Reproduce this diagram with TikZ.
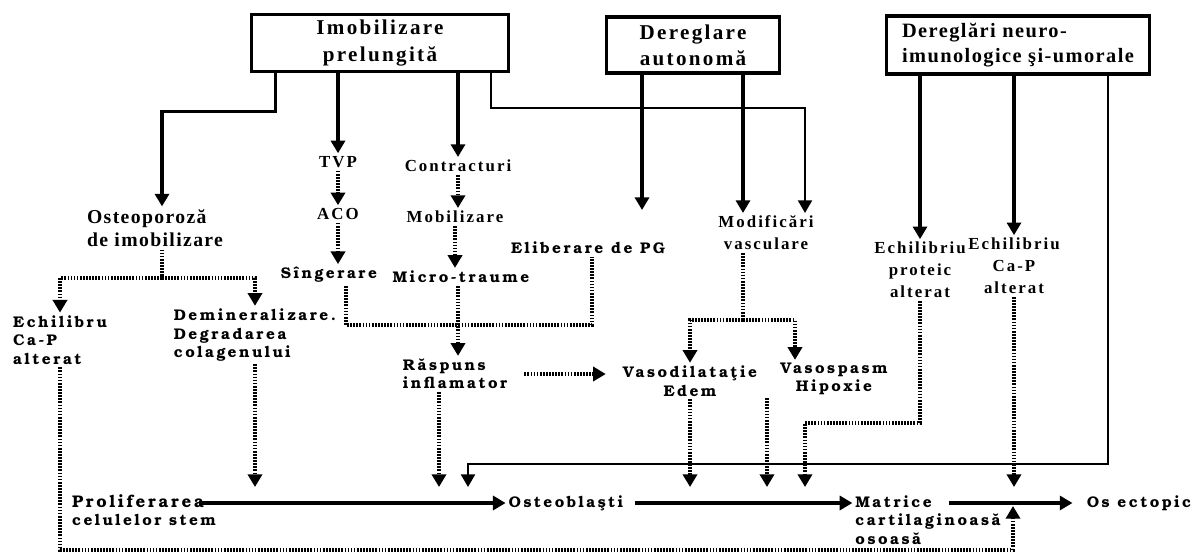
\documentclass[tikz,border=0pt]{standalone}
\usepackage{fontspec}
\setmainfont{Liberation Serif}
\newfontfamily\boxfont{Liberation Serif Bold}[LetterSpace=11]
\newfontfamily\boxfontnarrow{Liberation Serif Bold}[LetterSpace=7]
\newfontfamily\lightfont{Liberation Serif Bold}[LetterSpace=12]
\newfontfamily\bigfont{Liberation Serif Bold}[LetterSpace=7]
\newfontfamily\heavyfont{texgyrebonum-bold.otf}[LetterSpace=16]
\usetikzlibrary{arrows.meta, calc}

\begin{document}
\begin{tikzpicture}[
    x=0.025cm, y=-0.025cm,
    causebox/.style={rectangle, draw, line width=2.5pt, align=center, inner sep=0pt, font=\boxfont\fontsize{15}{18.5}\selectfont},
    light/.style={align=center, inner sep=2pt, font=\lightfont\fontsize{12}{15.5}\selectfont},
    heavy/.style={align=center, inner sep=2pt, font=\heavyfont\fontsize{11}{13}\selectfont},
    arrow/.style={-{Triangle[length=9pt, width=10pt]}, line width=2.2pt},
    thinarrow/.style={arrow, line width=1.5pt},
    dotarrow/.style={arrow, line width=2.4pt, dash pattern=on 1.2pt off 1pt},
    dotline/.style={line width=2.4pt, dash pattern=on 1.2pt off 1pt}
]

\useasboundingbox (0,0) rectangle (1197,554);

% ============ TOP: causes ============
\node[causebox, minimum width=6.425cm, minimum height=1.425cm] (imob) at (380,43) {Imobilizare\\prelungită};
\node[causebox, minimum width=4.325cm, minimum height=1.4cm] (autonom) at (693,45) {Dereglare\\autonomă};
\node[causebox, minimum width=6.575cm, minimum height=1.45cm, align=left,
      font=\boxfontnarrow\fontsize{14.5}{17.5}\selectfont] (neuro) at (1018,45) {Dereglări neuro-\\imunologice şi-umorale};

% ============ LEFT: osteoporosis branch ============
\node[light, align=left, font=\bigfont\fontsize{14}{16.3}\selectfont] (osteo) at (155,228) {Osteoporoză\\de imobilizare};
\node[heavy, align=left] (echleft) at (60,340) {Echilibru\\Ca-P\\alterat};
\node[heavy, align=left] (demin) at (255,335) {Demineralizare.\\Degradarea\\colagenului};

% ============ MIDDLE columns ============
\node[light] (tvp) at (338,162) {TVP};
\node[light] (aco) at (338,214) {ACO};
\node[heavy] (singer) at (329,275) {Sîngerare};
\node[light] (contr) at (458,166) {Contracturi};
\node[light] (mobil) at (455,217) {Mobilizare};
\node[heavy] (micro) at (461,277) {Micro-traume};
\node[heavy] (pg) at (588,248) {Eliberare de PG};
\node[heavy, align=left] (raspuns) at (455,374) {Răspuns\\inflamator};

% ============ vascular ============
\node[light] (modif) at (766,233) {Modificări\\vasculare};
\node[heavy] (vasod) at (690,381) {Vasodilataţie\\Edem};
\node[heavy] (vasos) at (834,379) {Vasospasm\\Hipoxie};

% ============ RIGHT ============
\node[light] (echprot) at (920,270) {Echilibriu\\proteic\\alterat};
\node[light] (echcap) at (1014,266) {Echilibriu\\Ca-P\\alterat};

% ============ BOTTOM: chain ============
\node[heavy, align=left] (prolif) at (144,510) {{\fontsize{12}{13}\selectfont Proliferarea}\\celulelor stem};
\node[heavy] (osteobl) at (566,503) {Osteoblaşti};
\node[heavy, align=left] (matrice) at (928,520) {Matrice\\cartilaginoasă\\osoasă};
\node[heavy] (osect) at (1139,503) {Os ectopic};

% junctions
\coordinate (jost) at (162,278);
\coordinate (jinf) at (458,325);
\coordinate (jvas) at (743,320);
\coordinate (pgin) at (642,210);
\coordinate (mainin) at (0,487);
\coordinate (neuroin) at (468,487);
\coordinate (loop) at (0,550);
\coordinate (capup) at (1013,506);

% ============ ARROWS ============
% from Imobilizare prelungita
\draw[arrow] ($(imob.south west)+(26,0)$) -- ++(0,38) -| ($(osteo.north)+(7,0)$);
\draw[arrow] (imob.south -| tvp.north) -- (tvp.north);
\draw[dotarrow] (tvp) -- (aco);
\draw[dotarrow] (aco.south) -- (aco.south |- singer.north);
\draw[arrow] (imob.south -| contr.north) -- (contr.north);
\draw[dotarrow] (contr.south) -- (contr.south |- mobil.north);
\draw[dotarrow] (mobil.south) -- (mobil.south |- micro.north);
\draw[thinarrow] ($(imob.south east)+(-19,0)$) -- ++(0,35) -| ($(modif.north)+(39,0)$);

% from Dereglare autonoma
\draw[arrow] (autonom.south -| pgin) -- (pgin);
\draw[arrow] (autonom.south -| jvas) -- (jvas |- modif.north);

% from neuro-imunologice
\draw[arrow] (neuro.south -| echprot.north) -- (echprot.north);
\draw[arrow] (neuro.south -| echcap.north) -- (echcap.north);
\draw[thinarrow] ($(neuro.south east)+(-43,0)$) -- ++(0,388) -| (neuroin);

% osteoporoza split
\draw[dotline] ($(osteo.south)+(7,0)$) -- (jost);
\draw[dotarrow] (jost) -| (echleft.north);
\draw[dotarrow] (jost) -| (demin.north);
\draw[dotarrow] (echleft.south) -- (echleft.south |- loop) -| (capup);
\draw[dotarrow] (demin.south) -- (demin.south |- mainin);

% inflammation
\draw[dotline] ($(singer.south)+(17,0)$) |- (jinf) -| ($(pg.south)+(4,0)$);
\draw[dotarrow] (micro.south -| jinf) -- (jinf |- raspuns.north);
\draw[dotarrow, shorten <=10pt, shorten >=10pt] (raspuns.east) -- (raspuns.east -| vasod.west);

% vascular split
\draw[dotline] (modif.south -| jvas) -- (jvas);
\draw[dotarrow] (jvas) -| (vasod.north);
\draw[dotarrow] (jvas) -| ($(vasos.north)+(-39,0)$);

% into the main chain
\draw[dotarrow] ($(raspuns.south)+(-16,0)$) -- ($(raspuns.south |- mainin)+(-16,0)$);
\draw[dotarrow] (vasod.south) -- (vasod.south |- mainin);
\draw[dotarrow] ($(vasos.south)+(-67,0)$) -- ($(vasos.south |- mainin)+(-67,0)$);
\draw[dotarrow] (echprot.south) -- ++(0,122) -| ($(vasos.south |- mainin)+(-29,0)$);
\draw[dotarrow] (echcap.south) -- (echcap.south |- mainin);

% main chain
\draw[arrow] ($(prolif.east |- osteobl.west)+(-20,0)$) -- (osteobl.west);
\draw[arrow, shorten <=6pt] (osteobl.east) -- (osteobl.east -| matrice.west);
\draw[arrow, shorten >=8pt] ($(osect.west)+(-135,0)$) -- (osect.west);

\end{tikzpicture}
\end{document}
